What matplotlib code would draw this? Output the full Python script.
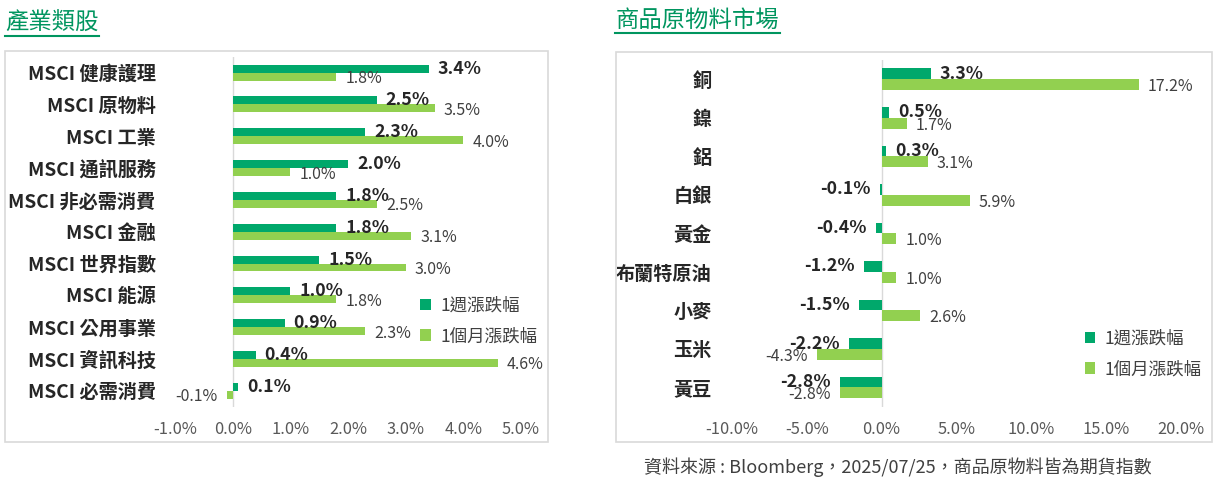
import matplotlib
matplotlib.use('Agg')
import matplotlib.pyplot as plt
from matplotlib.patches import Rectangle
from matplotlib.lines import Line2D
import numpy as np

plt.rcParams['font.family'] = ['Noto Sans CJK TC', 'DejaVu Sans']

# ---------------- data ----------------
sector_names = ['MSCI 健康護理', 'MSCI 原物料', 'MSCI 工業', 'MSCI 通訊服務', 'MSCI 非必需消費',
                'MSCI 金融', 'MSCI 世界指數', 'MSCI 能源', 'MSCI 公用事業', 'MSCI 資訊科技', 'MSCI 必需消費']
sector_week = [3.4, 2.5, 2.3, 2.0, 1.8, 1.8, 1.5, 1.0, 0.9, 0.4, 0.1]
sector_month = [1.8, 3.5, 4.0, 1.0, 2.5, 3.1, 3.0, 1.8, 2.3, 4.6, -0.1]
sector_ticks = [-1, 0, 1, 2, 3, 4, 5]

comm_names = ['銅', '鎳', '鋁', '白銀', '黃金', '布蘭特原油', '小麥', '玉米', '黃豆']
comm_week = [3.3, 0.5, 0.3, -0.1, -0.4, -1.2, -1.5, -2.2, -2.8]
comm_month = [17.2, 1.7, 3.1, 5.9, 1.0, 1.0, 2.6, -4.3, -2.8]
comm_ticks = [-10, -5, 0, 5, 10, 15, 20]

series_labels = ['1週漲跌幅', '1個月漲跌幅']
title_left = '產業類股'
title_right = '商品原物料市場'
footnote = '資料來源 : Bloomberg，2025/07/25，商品原物料皆為期貨指數'

DARK = '#00A86B'
LIGHT = '#92D050'
TITLE_GREEN = '#00955F'
GRID = '#D9D9D9'

W, H, DPI = 1213, 478, 100
fig = plt.figure(figsize=(W / DPI, H / DPI), dpi=DPI)


def rect_px(x0, y0, x1, y1):
    return [x0 / W, 1 - y1 / H, (x1 - x0) / W, (y1 - y0) / H]


def fx(x):
    return x / W


def fy(y):
    return 1 - y / H


# boxes
for (x0, y0, x1, y1) in [(5.4, 51, 548, 441.7), (615.6, 51.7, 1211.5, 441.7)]:
    fig.patches.append(Rectangle((fx(x0), fy(y1)), (x1 - x0) / W, (y1 - y0) / H,
                                 transform=fig.transFigure, fill=False,
                                 edgecolor=GRID, lw=1.2))

# titles
fig.text(fx(5.5), fy(23.5), title_left, fontsize=16.8, color=TITLE_GREEN,
         ha='left', va='center')
fig.lines.append(Line2D([fx(5), fx(99)], [fy(35.7), fy(35.7)], transform=fig.transFigure,
                        color=TITLE_GREEN, lw=1.5))
fig.text(fx(615.6), fy(20.5), title_right, fontsize=16.8, color=TITLE_GREEN,
         ha='left', va='center')
fig.lines.append(Line2D([fx(615), fx(780)], [fy(32.7), fy(32.7)], transform=fig.transFigure,
                        color=TITLE_GREEN, lw=1.5))

fig.text(fx(898), fy(467), footnote, fontsize=13, color='#404040', ha='center', va='center')


def draw(rect, names, week, month, ticks, bar_h, cat_pad, leg_xy):
    ax = fig.add_axes(rect)
    ax.patch.set_alpha(0)
    n = len(names)
    y = np.arange(n)
    b1 = ax.barh(y - bar_h / 2, week, height=bar_h, color=DARK, label=series_labels[0], zorder=2)
    b2 = ax.barh(y + bar_h / 2, month, height=bar_h, color=LIGHT, label=series_labels[1], zorder=2)
    ax.set_ylim(n - 0.5, -0.5)
    ax.set_xlim(ticks[0], ticks[-1])
    ax.axvline(0, color=GRID, lw=1, zorder=1)
    for s in ax.spines.values():
        s.set_visible(False)
    ax.set_xticks(ticks)
    ax.set_xticklabels([f'{t:.1f}%' for t in ticks])
    ax.set_yticks(y)
    ax.set_yticklabels(names)
    ax.tick_params(axis='x', length=0, pad=10, labelsize=11.8, labelcolor='#595959')
    ax.tick_params(axis='y', length=0, pad=cat_pad, labelsize=13.8, labelcolor='#262626')
    for lab in ax.get_yticklabels():
        lab.set_fontweight('bold')
    for bars, vals, weight, size, color, dy in [(b1, week, 'bold', 12.8, '#262626', 0),
                                                (b2, month, 'normal', 11.5, '#404040', -2)]:
        for r, v in zip(bars, vals):
            yc = r.get_y() + r.get_height() / 2
            off = 9 if v >= 0 else -9
            ax.annotate(f'{v:.1f}%', xy=(v, yc), xytext=(off, dy), textcoords='offset pixels',
                        ha='left' if v >= 0 else 'right', va='center',
                        fontsize=size, fontweight=weight, color=color, zorder=3)
    ax.legend(handles=[b1, b2], loc='center left',
              bbox_to_anchor=(fx(leg_xy[0]), fy(leg_xy[1])), bbox_transform=fig.transFigure,
              frameon=False, fontsize=12.6, handlelength=0.6, handleheight=0.6,
              handletextpad=0.55, labelspacing=0.7, borderpad=0, borderaxespad=0,
              labelcolor='#404040')
    return ax


draw(rect_px(175, 56.7, 521, 406.7), sector_names, sector_week, sector_month, sector_ticks,
     0.25, 14, (420, 321))
draw(rect_px(732, 60, 1180.5, 406.7), comm_names, comm_week, comm_month, comm_ticks,
     0.28, 14.8, (1084.5, 354))

fig.savefig('out.png', dpi=DPI)
